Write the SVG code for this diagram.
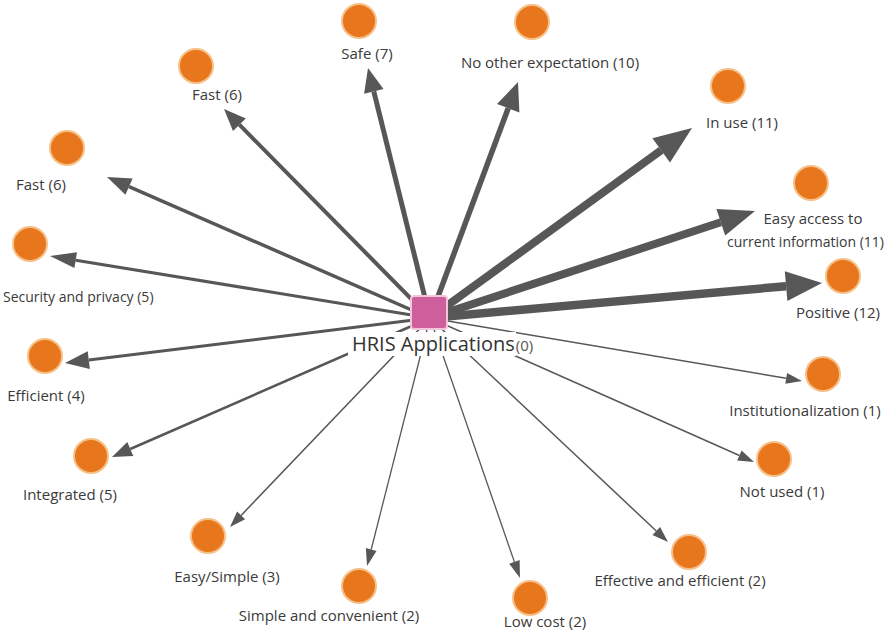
<svg xmlns="http://www.w3.org/2000/svg" width="887" height="634" viewBox="0 0 887 634">
  <style>
    .edge { stroke: #575757; fill: none; stroke-linecap: butt; }
    .head { fill: #575757; stroke: none; }
    .dot { fill: #e8761c; stroke: #f6c089; stroke-width: 2; }
    .lbl { font-family: "Open Sans", "Noto Sans", "Liberation Sans", sans-serif; font-size: 15px; fill: #3a3a3a; text-anchor: middle; }
    .lbl.sm { font-size: 14px; }
    .hub-lbl { font-family: "Open Sans", "Noto Sans", "Liberation Sans", sans-serif; font-size: 20px; fill: #333333; }
    .hub-cnt { font-family: "Open Sans", "Noto Sans", "Liberation Sans", sans-serif; font-size: 15px; fill: #555555; }
  </style>
  <rect width="887" height="634" fill="#ffffff"/>

  <!-- connectors: hub to each theme; stroke width follows the count -->
  <g id="edges">
    <line class="edge" x1="430" y1="318" x2="239.4" y2="124.7" stroke-width="4"/>
    <polygon class="head" points="224,109 245.8,118.4 233.0,131.0"/>

    <line class="edge" x1="430" y1="318" x2="373.8" y2="91.3" stroke-width="5"/>
    <polygon class="head" points="368,68 383.5,88.9 364.1,93.7"/>

    <line class="edge" x1="430" y1="318" x2="508.2" y2="108.2" stroke-width="5.5"/>
    <polygon class="head" points="518,82 519.4,112.4 497.0,104.0"/>

    <line class="edge" x1="430" y1="318" x2="661.2" y2="150.3" stroke-width="8"/>
    <polygon class="head" points="692,128 670.0,162.4 652.4,138.2"/>

    <line class="edge" x1="430" y1="318" x2="720.8" y2="222.3" stroke-width="8"/>
    <polygon class="head" points="755,211 725.2,235.6 716.4,209.0"/>

    <line class="edge" x1="430" y1="318" x2="786.1" y2="286.2" stroke-width="8.5"/>
    <polygon class="head" points="822,283 787.4,301.1 784.8,271.3"/>

    <line class="edge" x1="430" y1="318" x2="786.2" y2="378.3" stroke-width="1.5"/>
    <polygon class="head" points="802,381 785.3,383.7 787.1,372.9"/>

    <line class="edge" x1="430" y1="318" x2="739.4" y2="455.5" stroke-width="1.5"/>
    <polygon class="head" points="754,462 737.2,460.5 741.6,450.5"/>

    <line class="edge" x1="430" y1="318" x2="656.3" y2="531.0" stroke-width="1.5"/>
    <polygon class="head" points="668,542 652.5,535.0 660.1,527.0"/>

    <line class="edge" x1="430" y1="318" x2="514.4" y2="561.9" stroke-width="1.3"/>
    <polygon class="head" points="520,578 509.2,563.7 519.6,560.1"/>

    <line class="edge" x1="430" y1="318" x2="371.2" y2="549.5" stroke-width="1.3"/>
    <polygon class="head" points="367,566 365.9,548.1 376.5,550.9"/>

    <line class="edge" x1="430" y1="318" x2="241.1" y2="515.4" stroke-width="1.5"/>
    <polygon class="head" points="230,527 237.1,511.6 245.1,519.2"/>

    <line class="edge" x1="430" y1="318" x2="130.3" y2="449.0" stroke-width="2.5"/>
    <polygon class="head" points="112,457 127.3,442.1 133.3,455.9"/>

    <line class="edge" x1="430" y1="318" x2="88.8" y2="360.1" stroke-width="3"/>
    <polygon class="head" points="65,363 87.7,351.2 89.9,369.0"/>

    <line class="edge" x1="430" y1="318" x2="75.7" y2="260.2" stroke-width="3"/>
    <polygon class="head" points="50,256 77.0,252.3 74.4,268.1"/>

    <line class="edge" x1="430" y1="318" x2="129.0" y2="186.6" stroke-width="3.5"/>
    <polygon class="head" points="107,177 132.6,178.4 125.4,194.8"/>
  </g>

  <!-- hub -->
  <g id="hris-applications">
    <rect x="348" y="332" width="168" height="24" fill="#ffffff"/>
    <rect x="411" y="296" width="36" height="33" rx="3" fill="#cf5f9c" stroke="#f3c6dc" stroke-width="2"/>
    <text class="hub-lbl" x="352" y="351">HRIS Applications<tspan class="hub-cnt" dx="1">(0)</tspan></text>
  </g>

  <!-- theme nodes -->
  <g id="fast-top">
    <circle class="dot" cx="196" cy="66" r="17"/>
    <text class="lbl" x="217" y="100">Fast (6)</text>
  </g>
  <g id="safe">
    <circle class="dot" cx="359" cy="21" r="17"/>
    <text class="lbl" x="367" y="59">Safe (7)</text>
  </g>
  <g id="no-other-expectation">
    <circle class="dot" cx="532" cy="22" r="17"/>
    <text class="lbl" x="550" y="68">No other expectation (10)</text>
  </g>
  <g id="in-use">
    <circle class="dot" cx="728" cy="86" r="17"/>
    <text class="lbl" x="742" y="128">In use (11)</text>
  </g>
  <g id="easy-access">
    <circle class="dot" cx="811" cy="183" r="17"/>
    <text class="lbl" x="813" y="224">Easy access to</text>
    <text class="lbl sm" x="884" y="247" text-anchor="end" style="text-anchor:end">current information (11)</text>
  </g>
  <g id="positive">
    <circle class="dot" cx="843" cy="276" r="17"/>
    <text class="lbl" x="838" y="318">Positive (12)</text>
  </g>
  <g id="institutionalization">
    <circle class="dot" cx="823" cy="374" r="17"/>
    <text class="lbl" x="805" y="416">Institutionalization (1)</text>
  </g>
  <g id="not-used">
    <circle class="dot" cx="774" cy="459" r="17"/>
    <text class="lbl" x="782" y="497">Not used (1)</text>
  </g>
  <g id="effective-and-efficient">
    <circle class="dot" cx="689" cy="552" r="17"/>
    <text class="lbl" x="680" y="586">Effective and efficient (2)</text>
  </g>
  <g id="low-cost">
    <circle class="dot" cx="530" cy="598" r="17"/>
    <text class="lbl" x="545" y="627">Low cost (2)</text>
  </g>
  <g id="simple-and-convenient">
    <circle class="dot" cx="359" cy="586" r="17"/>
    <text class="lbl" x="329" y="621">Simple and convenient (2)</text>
  </g>
  <g id="easy-simple">
    <circle class="dot" cx="208" cy="536" r="17"/>
    <text class="lbl" x="227" y="582">Easy/Simple (3)</text>
  </g>
  <g id="integrated">
    <circle class="dot" cx="91" cy="456" r="17"/>
    <text class="lbl" x="70" y="500">Integrated (5)</text>
  </g>
  <g id="efficient">
    <circle class="dot" cx="45" cy="356" r="17"/>
    <text class="lbl" x="46" y="401">Efficient (4)</text>
  </g>
  <g id="security-and-privacy">
    <circle class="dot" cx="30" cy="244" r="17"/>
    <text class="lbl sm" x="3" y="302" style="text-anchor:start">Security and privacy (5)</text>
  </g>
  <g id="fast-left">
    <circle class="dot" cx="67" cy="148" r="17"/>
    <text class="lbl" x="41" y="190">Fast (6)</text>
  </g>
</svg>
